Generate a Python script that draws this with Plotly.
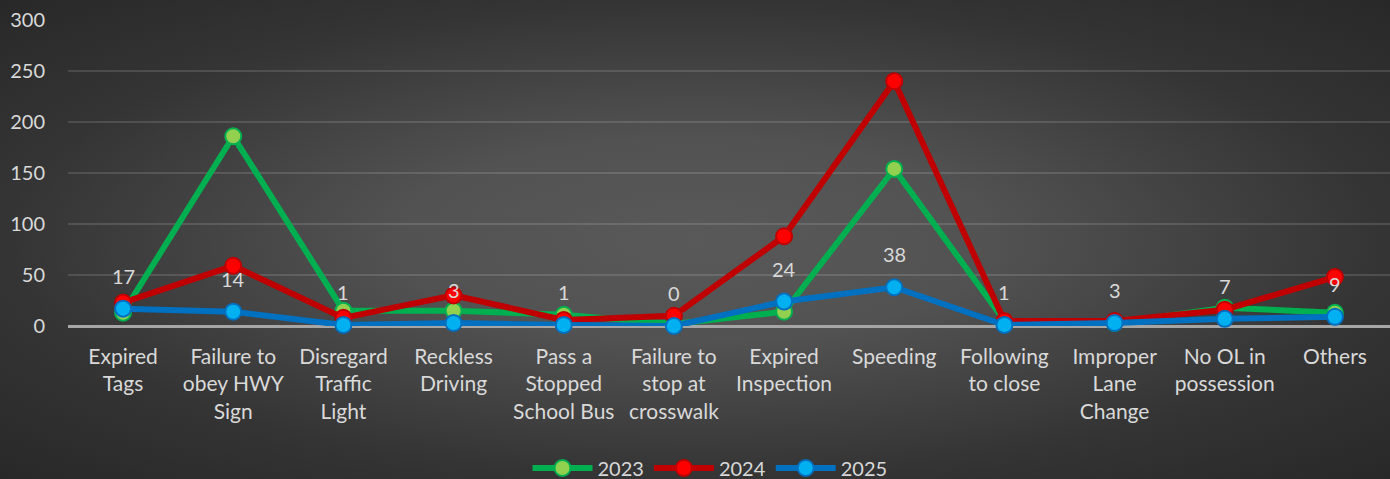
import plotly.graph_objects as go

categories = ["Expired<br>Tags", "Failure to<br>obey HWY<br>Sign", "Disregard<br>Traffic<br>Light",
              "Reckless<br>Driving", "Pass a<br>Stopped<br>School Bus", "Failure to<br>stop at<br>crosswalk",
              "Expired<br>Inspection", "Speeding", "Following<br>to close", "Improper<br>Lane<br>Change",
              "No OL in<br>possession", "Others"]
y2023 = [13, 186, 15, 15, 11, 2, 14, 154, 5, 3, 18, 13]
y2024 = [23, 59, 8, 30, 6, 10, 88, 240, 5, 5, 16, 48]
y2025 = [17, 14, 1, 3, 1, 0, 24, 38, 1, 3, 7, 9]

series = [
    ("2023", y2023, "#00B050", "#92D050"),
    ("2024", y2024, "#C00000", "#FF0000"),
    ("2025", y2025, "#0070C0", "#00B0F0"),
]

W, H = 1390, 479
L, R, T, B = 68, 0, 20, 153
pw, ph = W - L - R, H - T - B

fig = go.Figure()
for name, vals, lc, mc in series:
    fig.add_trace(go.Scatter(x=list(range(len(categories))), y=vals, name=name, mode="lines+markers",
                             line=dict(color=lc, width=6),
                             marker=dict(size=16, color=mc, line=dict(color=lc, width=2)),
                             cliponaxis=False, hoverinfo="skip"))

# data labels for 2025
for i, v in enumerate(y2025):
    fig.add_annotation(x=i, y=v, text=str(v), showarrow=False, yshift=33,
                       font=dict(size=20, color="#D9D9D9"))

svg = ("data:image/svg+xml;utf8,<svg xmlns='http://www.w3.org/2000/svg' width='1390' height='479' "
       "preserveAspectRatio='none' viewBox='0 0 1390 479'><defs><radialGradient id='g' cx='0.5' cy='0.5' r='0.71'>"
       "<stop offset='0' stop-color='%23595959'/><stop offset='0.3' stop-color='%23525252'/>"
       "<stop offset='0.7' stop-color='%23343434'/><stop offset='1' stop-color='%23282828'/>"
       "</radialGradient></defs>"
       "<rect width='1390' height='479' fill='url(%23g)'/></svg>")
fig.add_layout_image(source=svg, xref="paper", yref="paper", x=-L / pw, y=1 + T / ph,
                     sizex=W / pw, sizey=H / ph, sizing="stretch", layer="below",
                     xanchor="left", yanchor="top")

fig.update_layout(
    width=W, height=H, margin=dict(l=L, r=R, t=T, b=B, autoexpand=False),
    paper_bgcolor="#2c2c2c", plot_bgcolor="rgba(0,0,0,0)",
    font=dict(family="Lato", color="#D9D9D9", size=20),
    showlegend=True,
    legend=dict(orientation="h", x=(710 - L) / pw, xanchor="center",
                yref="container", y=1 - 468 / H, yanchor="middle",
                font=dict(size=20, color="#D9D9D9"), itemwidth=60,
                bgcolor="rgba(0,0,0,0)"),
)
fig.update_xaxes(tickmode="array", tickvals=list(range(len(categories))), ticktext=categories,
                 range=[-0.5, len(categories) - 0.5], showgrid=False, zeroline=False,
                 showline=False, ticks="", tickfont=dict(size=21, color="#D9D9D9"),
                 ticklabelstandoff=16)
fig.update_yaxes(range=[0, 300], dtick=50, gridcolor="rgba(255,255,255,0.13)", gridwidth=2,
                 zeroline=True, zerolinecolor="#A6A6A6", zerolinewidth=3,
                 tickfont=dict(size=20, color="#D9D9D9"), ticklabelstandoff=22)

page_js = ("document.body.style.margin='0';document.body.style.padding='0';"
           "document.body.style.overflow='hidden';"
           "document.documentElement.style.overflow='hidden';"
           "document.documentElement.style.margin='0';")
fig.write_html("out.html", config={"displayModeBar": False}, post_script=page_js)
